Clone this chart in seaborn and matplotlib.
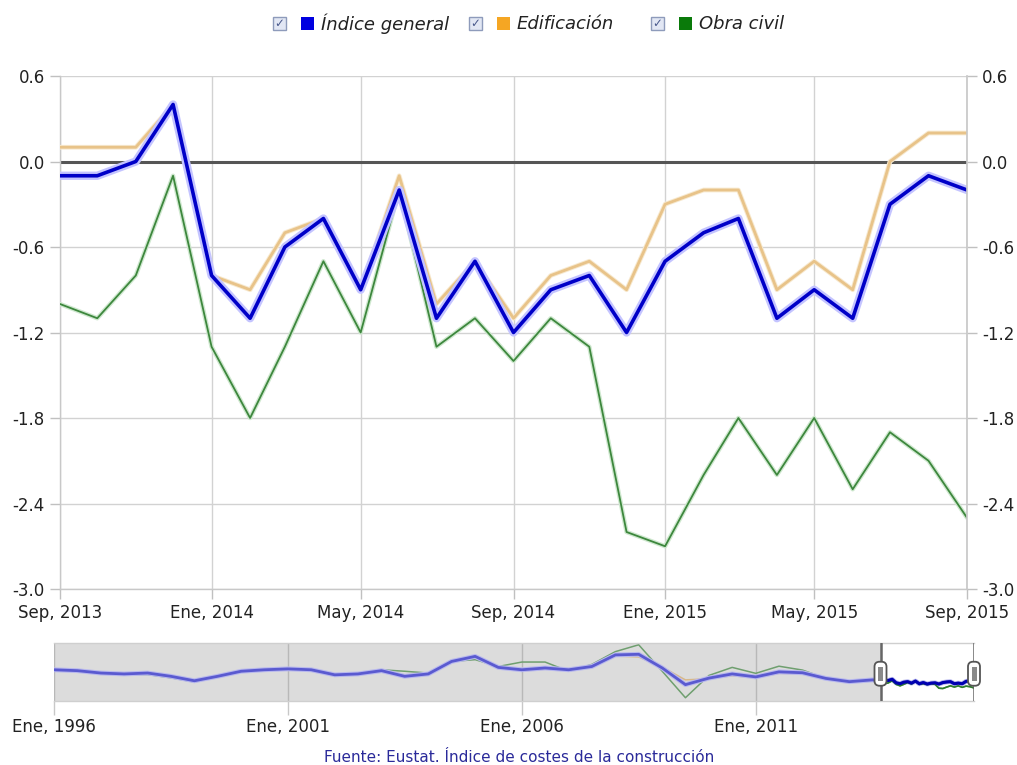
import numpy as np
import pandas as pd
import matplotlib
matplotlib.use("Agg")
import matplotlib.pyplot as plt
import seaborn as sns
from matplotlib import patheffects as pe
from matplotlib.patches import Rectangle, FancyBboxPatch

# ---------------- data ----------------
fechas = pd.date_range("2013-09-01", "2015-09-01", freq="MS")
indice_general = [-0.1, -0.1, 0.0, 0.4, -0.8, -1.1, -0.6, -0.4, -0.9, -0.2, -1.1, -0.7, -1.2,
                  -0.9, -0.8, -1.2, -0.7, -0.5, -0.4, -1.1, -0.9, -1.1, -0.3, -0.1, -0.2]
edificacion = [0.1, 0.1, 0.1, 0.4, -0.8, -0.9, -0.5, -0.4, -0.9, -0.1, -1.0, -0.7, -1.1,
               -0.8, -0.7, -0.9, -0.3, -0.2, -0.2, -0.9, -0.7, -0.9, 0.0, 0.2, 0.2]
obra_civil = [-1.0, -1.1, -0.8, -0.1, -1.3, -1.8, -1.3, -0.7, -1.2, -0.2, -1.3, -1.1, -1.4,
              -1.1, -1.3, -2.6, -2.7, -2.2, -1.8, -2.2, -1.8, -2.3, -1.9, -2.1, -2.5]

x_tick_dates = ["2013-09-01", "2014-01-01", "2014-05-01", "2014-09-01", "2015-01-01", "2015-05-01", "2015-09-01"]
x_tick_labels = ["Sep, 2013", "Ene, 2014", "May, 2014", "Sep, 2014", "Ene, 2015", "May, 2015", "Sep, 2015"]
y_ticks = [-3.0, -2.4, -1.8, -1.2, -0.6, 0.0, 0.6]
y_tick_labels = ["-3.0", "-2.4", "-1.8", "-1.2", "-0.6", "0.0", "0.6"]

# overview (navigator), semiannual readings 1996-2013
fechas_nav = pd.date_range("1996-01-01", "2013-07-01", freq="6MS")
nav_indice = [3.6, 3.3, 2.5, 2.2, 2.5, 1.4, -0.1, 1.4, 3.1, 3.6, 3.9, 3.6, 1.9, 2.2, 3.3, 1.4, 2.2, 6.4,
              8.1, 4.4, 3.6, 4.2, 3.6, 4.7, 8.6, 8.8, 4.2, -1.4, 0.8, 2.2, 1.2, 2.9, 2.6, 0.7, -0.4, 0.2]
nav_edificacion = [3.6, 3.3, 2.5, 2.3, 2.6, 1.6, 0.2, 1.5, 3.1, 3.6, 3.9, 3.6, 2.0, 2.1, 3.2, 1.2, 2.1, 6.4,
                   8.3, 4.3, 3.2, 3.8, 3.7, 4.5, 8.2, 7.9, 4.5, 0.2, 0.6, 1.6, 0.9, 2.4, 2.3, 0.7, -0.3, 0.4]
nav_obra_civil = [3.6, 3.3, 2.5, 2.0, 2.0, 0.9, -0.5, 1.2, 3.1, 3.6, 3.9, 3.6, 1.6, 2.4, 3.6, 3.1, 2.5, 6.4,
                  7.0, 4.7, 6.2, 6.2, 3.1, 5.4, 9.7, 12.0, 3.1, -5.8, 1.7, 4.4, 2.4, 4.8, 3.5, 0.7, -0.6, -0.2]
nav_tick_dates = ["1996-01-01", "2001-01-01", "2006-01-01", "2011-01-01"]
nav_tick_labels = ["Ene, 1996", "Ene, 2001", "Ene, 2006", "Ene, 2011"]

series_names = ["Índice general", "Edificación", "Obra civil"]
legend_colors = ["#0000e0", "#f5a623", "#0a7a0a"]

# ---------------- style ----------------
sns.set_theme(style="white")
plt.rcParams["font.family"] = ["DejaVu Sans"]

W, H = 1017, 765
fig = plt.figure(figsize=(W / 100, H / 100), dpi=100)
fig.patch.set_facecolor("white")

def fx(x):
    return x / W

def fy(y):
    return 1 - y / H

# ---------------- main chart ----------------
ax = fig.add_axes([fx(60), fy(589), (967 - 60) / W, (589 - 76) / H])
df = pd.DataFrame({"fecha": fechas, "Índice general": indice_general,
                   "Edificación": edificacion, "Obra civil": obra_civil})

ax.axhline(0, color="#555555", lw=2.2, zorder=2)

sns.lineplot(data=df, x="fecha", y="Obra civil", ax=ax, color="#3d873d", lw=1.3, zorder=3,
             path_effects=[pe.Stroke(linewidth=3.2, foreground="#cfe8cf"), pe.Normal()])
sns.lineplot(data=df, x="fecha", y="Edificación", ax=ax, color="#e8c389", lw=2.0, zorder=4,
             path_effects=[pe.Stroke(linewidth=3.4, foreground="#f7e9cf"), pe.Normal()])
sns.lineplot(data=df, x="fecha", y="Índice general", ax=ax, color="#0000c8", lw=2.6, zorder=5,
             path_effects=[pe.Stroke(linewidth=6, foreground="#c4c4ff"), pe.Normal()])

ax.set_xlim(fechas[0], fechas[-1])
ax.set_ylim(-3.0, 0.6)
ax.set_xticks(pd.to_datetime(x_tick_dates))
ax.set_xticklabels(x_tick_labels)
ax.set_yticks(y_ticks)
ax.set_yticklabels(y_tick_labels)
ax.set_xlabel("")
ax.set_ylabel("")
ax.grid(True, color="#d2d2d2", lw=1, zorder=0)
ax.set_axisbelow(True)
for s in ["top", "right"]:
    ax.spines[s].set_visible(False)
for s in ["left", "bottom"]:
    ax.spines[s].set_color("#c8c8c8")
    ax.spines[s].set_linewidth(1)
ax.tick_params(axis="y", which="major", direction="out", length=7, width=1, color="#c0c0c0",
               pad=4, labelsize=12, labelcolor="#222222", left=True)
ax.tick_params(axis="x", which="major", direction="out", length=7, width=1, color="#c0c0c0",
               pad=4, labelsize=12, labelcolor="#222222", bottom=True)

ax2 = ax.twinx()
ax2.set_ylim(-3.0, 0.6)
ax2.set_yticks(y_ticks)
ax2.set_yticklabels(y_tick_labels)
ax2.grid(False)
for s in ["top", "left", "bottom"]:
    ax2.spines[s].set_visible(False)
ax2.spines["right"].set_color("#c8c8c8")
ax2.tick_params(axis="y", direction="out", length=7, width=1, color="#c0c0c0", pad=4,
                labelsize=12, labelcolor="#222222", right=True)

# ---------------- legend ----------------
text_x = [321, 517, 699]
for i, name in enumerate(series_names):
    tx = text_x[i]
    sq = tx - 20
    cb = sq - 28
    fig.add_artist(Rectangle((fx(cb), fy(30)), 13 / W, 13 / H, transform=fig.transFigure,
                             facecolor="#e2e7f4", edgecolor="#8e9bbb", lw=1))
    fig.text(fx(cb + 6.5), fy(23.5), "✓", ha="center", va="center", fontsize=8.5, color="#4a5a8c")
    fig.add_artist(Rectangle((fx(sq), fy(30)), 13 / W, 13 / H, transform=fig.transFigure,
                             facecolor=legend_colors[i], edgecolor="none"))
    fig.text(fx(tx), fy(24), name, ha="left", va="center", fontsize=13,
             style="italic", color="#222222")

# ---------------- navigator ----------------
nav = fig.add_axes([fx(54), fy(701), (974 - 54) / W, (701 - 643) / H])
nav.set_xlim(fechas_nav[0], fechas[-1])
nav.set_ylim(-6.9, 12.6)
nav.set_facecolor("white")
nav.axvspan(fechas_nav[0], fechas[0], color="#dcdcdc", zorder=0, lw=0)

nav_full = pd.DataFrame({
    "fecha": list(fechas_nav) + list(fechas),
    "Índice general": nav_indice + indice_general,
    "Edificación": nav_edificacion + edificacion,
    "Obra civil": nav_obra_civil + obra_civil,
})
sns.lineplot(data=nav_full, x="fecha", y="Obra civil", ax=nav, color="#6f9f6f", lw=1.1, zorder=2)
sns.lineplot(data=nav_full, x="fecha", y="Edificación", ax=nav, color="#d8b88a", lw=1.1, zorder=3)
sns.lineplot(data=nav_full, x="fecha", y="Índice general", ax=nav, color="#5a5ad0", lw=2.0, zorder=4,
             path_effects=[pe.Stroke(linewidth=3.5, foreground="#b8b8ee"), pe.Normal()])
# selected window drawn saturated
sns.lineplot(data=df, x="fecha", y="Obra civil", ax=nav, color="#2e7d2e", lw=1.2, zorder=5)
sns.lineplot(data=df, x="fecha", y="Índice general", ax=nav, color="#0000b0", lw=2.2, zorder=6)

for d in pd.to_datetime(nav_tick_dates):
    nav.axvline(d, color="#b8b8b8", lw=1, zorder=1)
nav.set_xticks(pd.to_datetime(nav_tick_dates))
nav.set_xticklabels(nav_tick_labels)
nav.set_yticks([])
nav.set_xlabel("")
nav.set_ylabel("")
nav.tick_params(axis="x", direction="out", length=10, width=1, color="#c8c8c8", pad=2,
                labelsize=12, labelcolor="#222222", bottom=True)
for s in nav.spines.values():
    s.set_color("#cfcfcf")
    s.set_linewidth(1)
nav.spines["left"].set_visible(False)
nav.spines["right"].set_visible(False)

# handles of the navigator
for d in [fechas[0], fechas[-1]]:
    nav.axvline(d, color="#666666", lw=1.8, zorder=7)
    xd, _ = nav.transData.transform((matplotlib.dates.date2num(d), 0))
    _, yb = nav.transAxes.transform((0, 0.47))
    fig.add_artist(FancyBboxPatch((xd - 6, yb - 12), 12, 24, boxstyle="round,pad=0,rounding_size=5",
                                  transform=None, facecolor="white", edgecolor="#555555", lw=1.3,
                                  zorder=10))
    fig.add_artist(Rectangle((xd - 2.5, yb - 7), 5, 14, transform=None, facecolor="#8a8a8a",
                             edgecolor="none", zorder=11))

# ---------------- footer ----------------
fig.text(fx(519), fy(757), "Fuente: Eustat. Índice de costes de la construcción", ha="center",
         va="center", fontsize=11, color="#2a2a9a")

fig.savefig("out.png", dpi=100, facecolor="white")
